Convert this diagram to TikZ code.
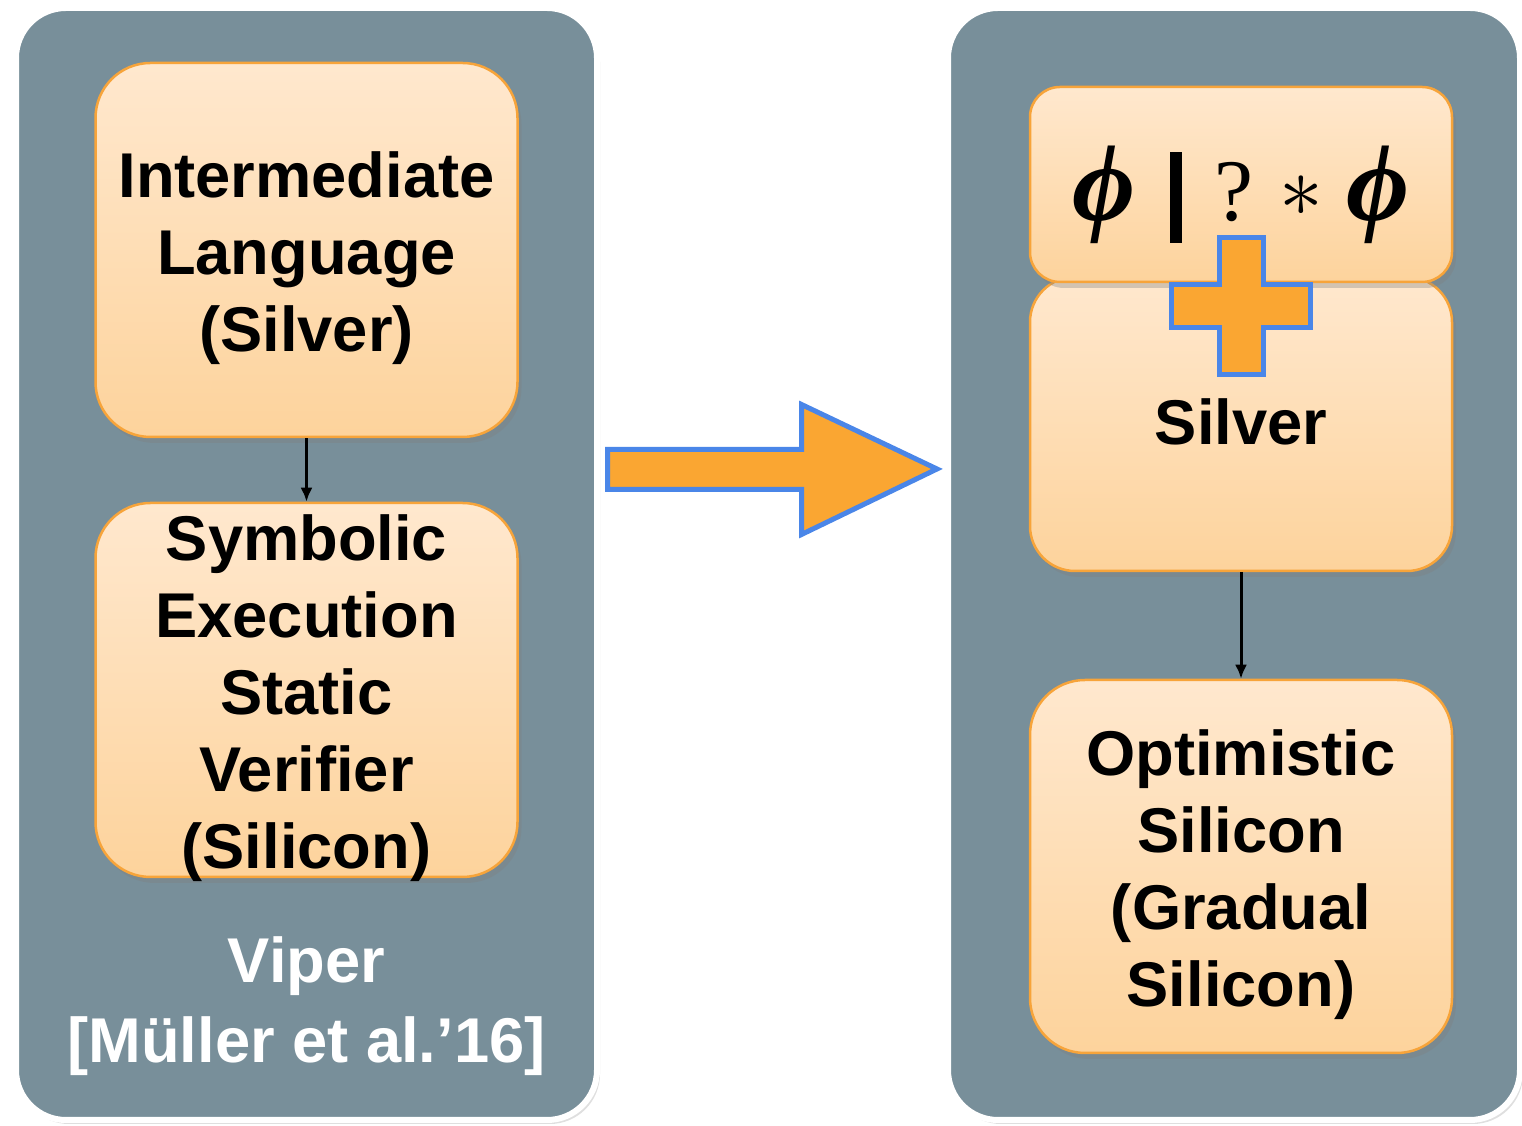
\documentclass[tikz,border=0pt]{standalone}
\usepackage[no-math]{fontspec}
\setmainfont{Liberation Sans}
\newfontfamily\formulafont{Liberation Serif}
\usetikzlibrary{arrows.meta,shadows,positioning}

\definecolor{panelgray}{RGB}{120,143,154}
\definecolor{boxtop}{RGB}{255,232,206}
\definecolor{boxbot}{RGB}{253,211,156}
\definecolor{boxline}{RGB}{247,164,58}
\definecolor{plusfill}{RGB}{250,166,50}
\definecolor{plusline}{RGB}{74,134,232}

\newcommand{\bigphi}{{\fontsize{31}{31}\selectfont\bfseries\itshape ϕ}}

\begin{document}
\begin{tikzpicture}[x=0.1mm,y=-0.1mm,
  panel/.style={fill=panelgray,draw=white,line width=0.6mm,rounded corners=5mm,
    drop shadow={opacity=0.25,shadow xshift=0.3mm,shadow yshift=-0.4mm}},
  stepbox/.style={rectangle,rounded corners=5.5mm,draw=boxline,line width=0.25mm,
    top color=boxtop,bottom color=boxbot,minimum width=42.2mm,inner sep=0pt,
    drop shadow={opacity=0.35,shadow xshift=0.4mm,shadow yshift=-0.6mm}},
  boxtext/.style={align=center,inner sep=0pt,font=\fontsize{18}{21.9}\selectfont\bfseries},
  blockarrow/.style={fill=plusfill,draw=plusline,line width=0.5mm},
  link/.style={-{Latex[length=1.4mm,width=1.2mm]},line width=0.3mm}]
  \useasboundingbox (0,0) rectangle (1522,1126);

  % Panels
  \draw[panel] (16,8) rectangle (597,1120);
  \draw[panel] (948,8) rectangle (1520,1120);

  % Viper
  \node[stepbox,minimum height=37.4mm] (ilang) at (306.5,250) {};
  \node[boxtext] (ilangtext) at ([yshift=-0.8mm]ilang.center) {Intermediate\\Language\\(Silver)};
  \node[stepbox,minimum height=37.4mm] (symex) at (306.5,690) {};
  \node[boxtext] (symextext) at ([yshift=-0.8mm]symex.center) {Symbolic\\Execution\\Static\\Verifier\\(Silicon)};
  \node[boxtext,text=white,font=\fontsize{18}{22.7}\selectfont\bfseries] (viper) at (306.5,1006)
    {Viper\\{[}Müller et al.’16{]}};
  \draw[link] (ilang) -- (symex);

  % Big arrow
  \draw[blockarrow] (607.5,449.5) -- (801.5,449.5) -- (801.5,404.5) -- (937,469)
    -- (801.5,534.5) -- (801.5,489.5) -- (607.5,489.5) -- cycle;

  % Gradual verifier
  \node[stepbox,rounded corners=4.5mm,minimum height=29.4mm] (silver) at (1241,424) {};
  \node[boxtext] (silvertext) at ([yshift=0.2mm]silver.center) {Silver};
  \node[stepbox,rounded corners=3mm,minimum height=19.5mm] (grad) at (1241,184.5) {};
  \node[anchor=base,inner sep=0pt,font=\formulafont\fontsize{25}{30}\selectfont] (gradtext) at (1241,221)
    {\bigphi\hspace{3.4mm}\rule[-0.22cm]{0.12cm}{0.91cm}\hspace{3.3mm}?\hspace{2.6mm}\raisebox{0.4mm}{\fontsize{25}{25}\selectfont$\ast$}\hspace{2.3mm}\bigphi};
  \node[stepbox,minimum height=37.3mm] (osil) at (1241,866.5) {};
  \node[boxtext] (osiltext) at ([yshift=-0.8mm]osil.center) {Optimistic\\Silicon\\(Gradual\\Silicon)};
  \draw[link] (silver) -- (osil);

  % Plus
  \draw[blockarrow] (1219.5,237.5) -- (1263.5,237.5) -- (1263.5,284.5) -- (1310.5,284.5)
    -- (1310.5,327.5) -- (1263.5,327.5) -- (1263.5,374.5) -- (1219.5,374.5)
    -- (1219.5,327.5) -- (1171.5,327.5) -- (1171.5,284.5) -- (1219.5,284.5) -- cycle;
\end{tikzpicture}
\end{document}
